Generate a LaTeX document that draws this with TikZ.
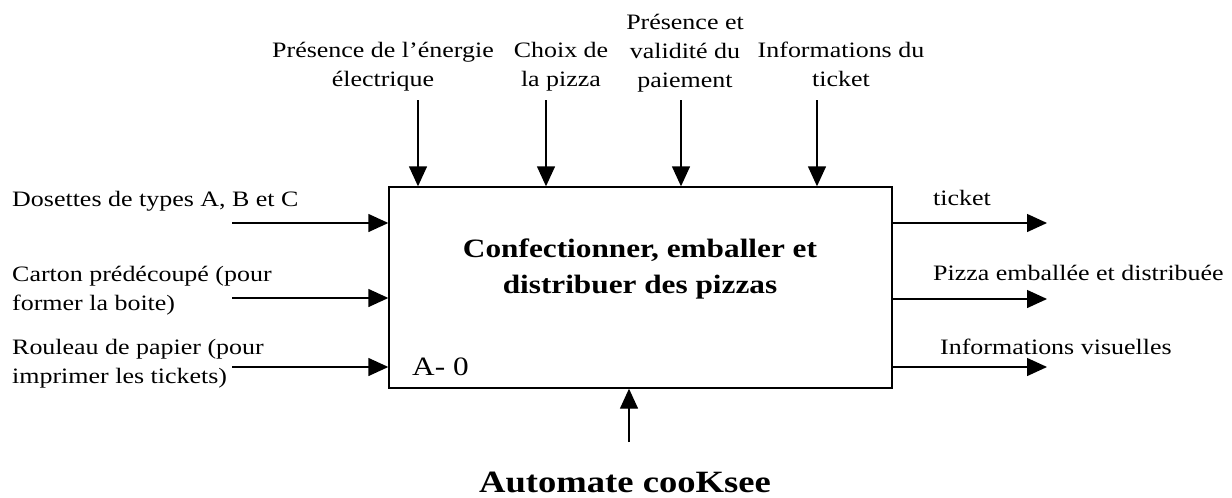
\documentclass[tikz,border=0pt]{standalone}
\usepackage{fontspec}
\setmainfont{Liberation Serif}[FakeStretch=1.18]
\usetikzlibrary{arrows.meta}

\tikzset{
  arr/.style={line width=1.4pt, -{Triangle[length=20pt, width=18pt]}},
  lbl/.style={inner sep=0pt, font=\fontsize{22}{29}\selectfont},
  toplbl/.style={lbl, align=center, anchor=base},
  sidelbl/.style={lbl, align=left, anchor=base west},
  funcbox/.style={draw, line width=1.4pt, minimum width=503pt, minimum height=201pt, inner sep=0pt},
}

\begin{document}
\begin{tikzpicture}[x=1pt, y=-1pt]
\useasboundingbox (0,0) rectangle (1232,498);

% function box A-0 (multi-line nodes are anchored at the baseline of their last line)
\node[funcbox] (box) at (640.5,287.5) {};
\node[inner sep=0pt, anchor=base, align=center,
      font=\fontsize{26.5}{36}\selectfont\bfseries] (title) at (640,293)
  {Confectionner, emballer et\\distribuer des pizzas};
\node[inner sep=0pt, anchor=base west, font=\fontsize{26.5}{32}\selectfont] (code) at (412,375) {A- 0};

% controls (top)
\node[toplbl] (c1) at (383,86) {Présence de l’énergie\\électrique};
\node[toplbl] (c2) at (561,86) {Choix de\\la pizza};
\node[toplbl] (c3) at (685,87) {Présence et\\validité du\\paiement};
\node[toplbl] (c4) at (841,86) {Informations du\\ticket};
\coordinate (t1) at (418,100);
\coordinate (t2) at (546,100);
\coordinate (t3) at (681,100);
\coordinate (t4) at (817,100);
\foreach \t in {t1,t2,t3,t4}
  \draw[arr] (\t) -- (\t |- box.north);

% inputs (left)
\node[sidelbl] (i1) at (12,206) {Dosettes de types A, B et C};
\node[sidelbl] (i2) at (12,310) {Carton prédécoupé (pour\\former la boite)};
\node[sidelbl] (i3) at (12,383) {Rouleau de papier (pour\\imprimer les tickets)};
\coordinate (l1) at (232,223);
\coordinate (l2) at (232,298);
\coordinate (l3) at (232,367);
\foreach \l in {l1,l2,l3}
  \draw[arr] (\l) -- (\l -| box.west);

% outputs (right)
\node[sidelbl] (o1) at (933,205) {ticket};
\node[sidelbl] (o2) at (933,280) {Pizza emballée et distribuée};
\node[sidelbl] (o3) at (940,354) {Informations visuelles};
\coordinate (r1) at (1047,223);
\coordinate (r2) at (1047,299);
\coordinate (r3) at (1047,367);
\foreach \r in {r1,r2,r3}
  \draw[arr] (\r -| box.east) -- (\r);

% mechanism (bottom)
\node[inner sep=0pt, anchor=base, font=\fontsize{31}{36}\selectfont\bfseries] (mech) at (625,492) {Automate cooKsee};
\coordinate (m) at (629,442);
\draw[arr] (m) -- (m |- box.south);
\end{tikzpicture}
\end{document}
